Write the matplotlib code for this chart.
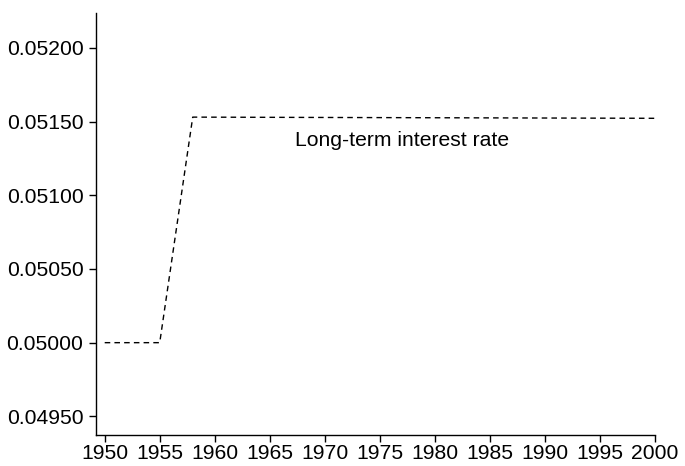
import matplotlib.pyplot as plt

plt.rcParams["font.family"] = ["Liberation Sans", "DejaVu Sans"]

years = [1950, 1955, 1958, 2000]
rate = [0.05000, 0.05000, 0.051530, 0.051522]
x_ticks = list(range(1950, 2001, 5))
y_ticks = [0.0495, 0.0500, 0.0505, 0.0510, 0.0515, 0.0520]

fig = plt.figure(figsize=(6.85, 4.66), dpi=100)
ax = fig.add_axes([0.140, 0.066, 0.816, 0.906])

ax.plot(years, rate, color="black", linewidth=1.0, linestyle=(0, (4, 3)))
ax.text(1977, 0.05137, "Long-term interest rate", ha="center", va="center", fontsize=15.2)

ax.set_xlim(1949.2, 2000)
ax.set_ylim(0.049372, 0.052236)
ax.set_xticks(x_ticks)
ax.set_yticks(y_ticks)
ax.set_yticklabels([f"{v:.5f}" for v in y_ticks])
ax.tick_params(labelsize=15.2, length=5, width=1, direction="out")
ax.tick_params(axis="y", pad=4)
ax.tick_params(axis="x", pad=1.5)
for s in ("top", "right"):
    ax.spines[s].set_visible(False)
for s in ("left", "bottom"):
    ax.spines[s].set_linewidth(1.0)

fig.savefig("out.png", dpi=100)
